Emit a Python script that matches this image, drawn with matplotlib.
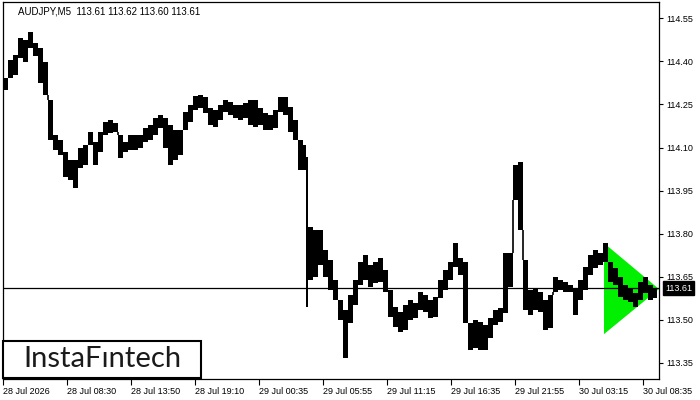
import numpy as np
import matplotlib.pyplot as plt
from matplotlib.patches import Polygon, Rectangle
import matplotlib.transforms as mtransforms

plt.rcParams['font.family'] = ['Liberation Sans', 'DejaVu Sans']

symbol_title = "AUDJPY,M5  113.61 113.62 113.60 113.61"
last_price = 113.61

# M5 bars, sampled (bar index, high, low)
bar_idx = [0, 5, 10, 15, 20, 25, 30, 35, 40, 45, 50, 55, 60, 65, 70, 75, 80, 85, 90, 95,
           100, 105, 110, 115, 120, 125, 130, 135, 140, 145, 150, 155, 160, 165, 170, 175,
           180, 185, 190, 195, 200, 205, 210, 215, 220, 225, 230, 235, 240, 245, 250, 255,
           260, 265, 270, 275, 280, 285, 290, 295, 300, 303, 305, 310, 315, 320, 325, 330,
           335, 340, 345, 350, 355, 360, 365, 370, 375, 380, 385, 390, 395, 400, 405, 410,
           415, 420, 425, 430, 435, 440, 445, 450, 455, 460, 465, 470, 475, 480, 485, 490,
           495, 500, 505, 510, 515, 520, 525, 530, 535, 540, 545, 550, 555, 560, 565, 570,
           575, 580, 585, 590, 595, 600, 605, 610, 615, 620, 625, 630, 635, 640, 645, 650]
bar_high = [114.342, 114.405, 114.422, 114.482, 114.475, 114.503, 114.464, 114.447, 114.398, 114.266,
            114.144, 114.126, 114.084, 114.057, 114.057, 114.098, 114.109, 114.154, 114.119, 114.154,
            114.189, 114.196, 114.186, 114.144, 114.119, 114.144, 114.144, 114.144, 114.168, 114.179,
            114.203, 114.213, 114.203, 114.179, 114.161, 114.161, 114.224, 114.248, 114.280, 114.283,
            114.276, 114.238, 114.231, 114.248, 114.266, 114.259, 114.248, 114.248, 114.255, 114.266,
            114.266, 114.238, 114.220, 114.213, 114.231, 114.276, 114.276, 114.241, 114.196, 114.126,
            114.109, 114.067, 113.823, 113.813, 113.813, 113.743, 113.708, 113.638, 113.569, 113.534,
            113.586, 113.638, 113.701, 113.726, 113.691, 113.701, 113.715, 113.673, 113.604, 113.544,
            113.527, 113.551, 113.569, 113.558, 113.597, 113.586, 113.569, 113.579, 113.638, 113.673,
            113.701, 113.767, 113.715, 113.701, 113.489, 113.499, 113.492, 113.482, 113.506, 113.534,
            113.541, 113.733, 113.733, 114.039, 114.050, 113.708, 113.604, 113.611, 113.597, 113.569,
            113.586, 113.649, 113.638, 113.632, 113.621, 113.611, 113.638, 113.684, 113.726, 113.743,
            113.733, 113.767, 113.701, 113.680, 113.649, 113.621, 113.611, 113.593, 113.632, 113.649,
            113.621, 113.611]
bar_low = [114.300, 114.342, 114.353, 114.412, 114.398, 114.447, 114.419, 114.325, 114.283, 114.126,
           114.091, 114.074, 113.997, 113.987, 113.959, 114.029, 114.039, 114.109, 114.039, 114.084,
           114.144, 114.151, 114.154, 114.064, 114.084, 114.091, 114.091, 114.098, 114.119, 114.126,
           114.144, 114.168, 114.098, 114.039, 114.057, 114.074, 114.161, 114.189, 114.231, 114.238,
           114.220, 114.179, 114.172, 114.196, 114.224, 114.213, 114.203, 114.196, 114.203, 114.179,
           114.172, 114.179, 114.161, 114.161, 114.168, 114.224, 114.213, 114.154, 114.126, 114.022,
           114.022, 113.544, 113.638, 113.649, 113.691, 113.649, 113.604, 113.569, 113.499, 113.367,
           113.489, 113.551, 113.621, 113.638, 113.614, 113.628, 113.632, 113.597, 113.510, 113.475,
           113.457, 113.464, 113.499, 113.506, 113.534, 113.527, 113.506, 113.510, 113.576, 113.604,
           113.638, 113.684, 113.656, 113.489, 113.395, 113.402, 113.395, 113.395, 113.436, 113.482,
           113.492, 113.524, 113.614, 113.917, 113.813, 113.534, 113.517, 113.534, 113.527, 113.464,
           113.471, 113.597, 113.604, 113.597, 113.597, 113.517, 113.569, 113.604, 113.656, 113.680,
           113.691, 113.701, 113.632, 113.621, 113.579, 113.569, 113.562, 113.544, 113.569, 113.593,
           113.569, 113.576]

time_ticks = [0, 64, 128, 192, 256, 320, 384, 448, 512, 576, 640]
time_labels = ["28 Jul 2026", "28 Jul 08:30", "28 Jul 13:50", "28 Jul 19:10",
               "29 Jul 00:35", "29 Jul 05:55", "29 Jul 11:15", "29 Jul 16:35",
               "29 Jul 21:55", "30 Jul 03:15", "30 Jul 08:35"]
price_ticks = [113.35, 113.50, 113.65, 113.80, 113.95, 114.10, 114.25, 114.40, 114.55]

# symmetric triangle pattern (bullish)
pattern_x = [601, 601, 656]
pattern_y = [113.767, 113.450, 113.607]

fig = plt.figure(figsize=(7, 4), dpi=100)
ax = fig.add_axes([3 / 700, 21 / 400, 656 / 700, 377 / 400])

ax.add_patch(Polygon(list(zip(pattern_x, pattern_y)), closed=True,
                     facecolor='#00f000', edgecolor='none', zorder=1))

high = np.array(bar_high)
low = np.array(bar_low)
idx = np.array(bar_idx)
widths = np.diff(bar_idx + [bar_idx[-1] + 4])
ax.bar(idx, high - low, bottom=low, width=widths, align='edge',
       color='black', linewidth=0, zorder=3)

# join neighbouring samples where the price jumped between them
gap_lo = np.minimum(high[:-1], high[1:])
gap_hi = np.maximum(low[:-1], low[1:])
jump = gap_hi > gap_lo
ax.vlines(idx[1:][jump], gap_lo[jump], gap_hi[jump], color='black', lw=1.2, zorder=3)

ax.axhline(last_price, color='black', lw=0.9, zorder=4)

ax.set_xlim(0, 656)
ax.set_ylim(113.2936, 114.607)

ax.set_xticks(time_ticks)
ax.set_xticklabels(time_labels, ha='left')
ax.set_yticks(price_ticks)
ax.set_yticklabels([f"{p:.2f}" for p in price_ticks])
ax.yaxis.tick_right()
ax.tick_params(axis='x', direction='out', length=4, width=0.8, pad=1.5, labelsize=6.5)
ax.tick_params(axis='y', direction='out', length=3, width=0.8, pad=2, labelsize=6.5)
for s in ax.spines.values():
    s.set_linewidth(0.9)

# last price tag on the price scale
trans = mtransforms.blended_transform_factory(ax.transAxes, ax.transData)
ax.text(1.0 + 6 / 656, last_price, f"{last_price:.2f}", transform=trans,
        ha='left', va='center', color='white', fontsize=6.5, clip_on=False,
        bbox=dict(boxstyle='square,pad=0.25', fc='black', ec='black'))

fig.text(18 / 700, 1 - 11 / 400, symbol_title, fontsize=7, ha='left', va='center')

# watermark logo
fig.add_artist(Rectangle((3 / 700, 22 / 400), 198 / 700, 37 / 400, transform=fig.transFigure,
                         facecolor='white', edgecolor='black', linewidth=1.5, zorder=10))
fig.text(102 / 700, 41 / 400, "InstaF\u0131ntech", family=['Lato', 'DejaVu Sans'],
         fontsize=21, color='#1a1a1a', ha='center', va='center', zorder=11)

fig.savefig('out.png', dpi=100)
